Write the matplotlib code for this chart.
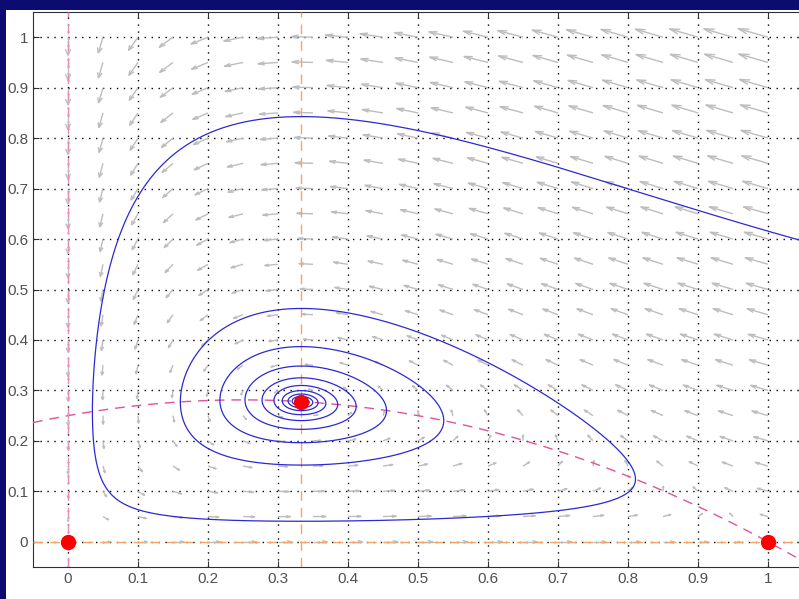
"""Predator-prey phase portrait (MATLAB-style quiver, nullclines, one orbit)."""

import numpy as np
import matplotlib.pyplot as plt
from matplotlib.collections import LineCollection
from matplotlib.patches import Rectangle


# Model:
#   x' = x(1-x) - PREY_K*x*y/(1+HALF_SAT*x)
#   y' = PRED_D*y*(PRED_E*x/(1+HALF_SAT*x) - 1)
# prey nullcline passes y=0.25 at x=0 and (1, 0); predator nullcline at x=1/3
PREY_K = 4.0
HALF_SAT = 2.0
PRED_E = 5.0
PRED_D = 0.8

EQ_X = [0.0, 1.0, 1.0 / 3.0]
EQ_Y = [0.0, 0.0, 0.2778]

TRAJ_START = (1.05, 0.596)   # where the orbit enters at the right edge
TRAJ_TIME = 120.0

XTICKS = [0, 0.1, 0.2, 0.3, 0.4, 0.5, 0.6, 0.7, 0.8, 0.9, 1]
YTICKS = [0, 0.1, 0.2, 0.3, 0.4, 0.5, 0.6, 0.7, 0.8, 0.9, 1]
TICK_LABELS = ["0", "0.1", "0.2", "0.3", "0.4", "0.5", "0.6", "0.7", "0.8", "0.9", "1"]

FIELD_STEP = 0.05
ARROW_SCALE = 0.039   # arrow length = ARROW_SCALE * speed**ARROW_POW
ARROW_POW = 0.45


def field(x, y):
    dx = x * (1 - x) - PREY_K * x * y / (1 + HALF_SAT * x)
    dy = PRED_D * y * (PRED_E * x / (1 + HALF_SAT * x) - 1)
    return dx, dy


def integrate(start, t_end, h=0.01):
    p = np.array(start, dtype=float)
    pts = [p.copy()]
    f = lambda q: np.array(field(q[0], q[1]))
    for _ in range(int(t_end / h)):
        k1 = f(p)
        k2 = f(p + h / 2 * k1)
        k3 = f(p + h / 2 * k2)
        k4 = f(p + h * k3)
        p = p + h / 6 * (k1 + 2 * k2 + 2 * k3 + k4)
        pts.append(p.copy())
    return np.array(pts)


W, H = 799, 599
fig = plt.figure(figsize=(W / 100, H / 100), dpi=100)
fig.patch.set_facecolor("#0b0b70")
fig.patches.append(Rectangle((6 / W, 0), 1, (H - 10) / H, transform=fig.transFigure,
                             facecolor="white", edgecolor="none", zorder=-5))

ax = fig.add_axes([33 / W, (H - 567) / H, (803 - 33) / W, (567 - 12) / H])
ax.set_xlim(-0.05, 1.05)
ax.set_ylim(-0.05, 1.05)

# direction field, MATLAB style open arrow heads
gx, gy = np.meshgrid(np.arange(0, 1 + 1e-9, FIELD_STEP), np.arange(0, 1 + 1e-9, FIELD_STEP))
u, v = field(gx, gy)
u, v = u.ravel(), v.ravel()
speed = np.maximum(np.hypot(u, v), 1e-12)
k = ARROW_SCALE * speed ** ARROW_POW / speed
u, v = u * k, v * k
a, b = 0.33, 0.33
segs = []
for xi, yi, ui, vi in zip(gx.ravel(), gy.ravel(), u, v):
    tip = (xi + ui, yi + vi)
    segs.append([(xi, yi), tip])
    segs.append([(xi + ui - a * (ui + b * vi), yi + vi - a * (vi - b * ui)), tip,
                 (xi + ui - a * (ui - b * vi), yi + vi - a * (vi + b * ui))])
ax.add_collection(LineCollection(segs, colors="#bdbdbd", linewidths=1.0, zorder=2))

# nullclines
xs = np.linspace(-0.05, 1.05, 300)
prey_null = (1 - xs) * (1 + HALF_SAT * xs) / PREY_K
ax.plot(xs, prey_null, color="#e0529a", lw=1.0, dashes=(7, 5), zorder=3)
ax.axvline(0, color="#e98cc0", lw=1.0, dashes=(7, 5), zorder=3)
ax.axhline(0, color="#f4a66a", lw=1.0, dashes=(7, 5), zorder=3)
ax.axvline(1.0 / 3.0, color="#f4a66a", lw=1.0, dashes=(7, 5), zorder=3)

# orbit
traj = integrate(TRAJ_START, TRAJ_TIME)
ax.plot(traj[:, 0], traj[:, 1], color="#2a2ad4", lw=0.9, zorder=4)

# equilibria
ax.plot(EQ_X, EQ_Y, "o", color="#ff0000", markersize=10, zorder=5, clip_on=False)

ax.set_xticks(XTICKS)
ax.set_xticklabels(TICK_LABELS)
ax.set_yticks(YTICKS)
ax.set_yticklabels(TICK_LABELS)
ax.grid(True, color="black", linestyle=(0, (1, 4)), linewidth=1.0, zorder=1)
ax.set_axisbelow(True)
ax.tick_params(direction="in", length=4, top=True, right=True, colors="#303030",
               labelcolor="#505050", labelsize=11)
for lbl in ax.get_xticklabels() + ax.get_yticklabels():
    lbl.set_family(["Liberation Sans", "DejaVu Sans"])
for s in ax.spines.values():
    s.set_color("#303030")
    s.set_linewidth(0.8)

fig.savefig("out.png", dpi=100, facecolor=fig.get_facecolor())
